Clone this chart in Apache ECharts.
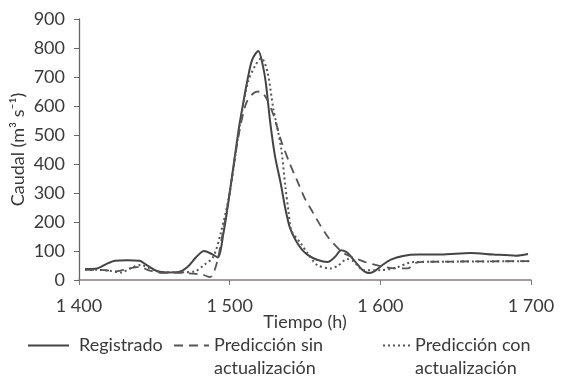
<!DOCTYPE html>
<html>
<head>
<meta charset="utf-8">
<script src="https://cdn.jsdelivr.net/npm/echarts@6/dist/echarts.min.js"></script>
<style>
  html, body { margin: 0; padding: 0; background: #fff; }
  #chart { width: 564px; height: 376px; }
</style>
</head>
<body>
<div id="chart"></div>
<script>
// tiempo (h) y caudal (m3/s)
const registradoT = [1404, 1412, 1418, 1424, 1432, 1440, 1446, 1452, 1458, 1466, 1472, 1478, 1483, 1488, 1492, 1496, 1500, 1506, 1509, 1512, 1515, 1519, 1522, 1524, 1527, 1530, 1534, 1537, 1540, 1544, 1548, 1552, 1558, 1565, 1570, 1574, 1578, 1583, 1588, 1592, 1596, 1601, 1607, 1615, 1625, 1640, 1660, 1675, 1690, 1698]
const registradoQ = [38, 40, 55, 66, 68, 66, 48, 30, 26, 28, 45, 80, 100, 90, 78, 165, 300, 520, 610, 695, 760, 790, 740, 680, 540, 430, 330, 245, 180, 135, 105, 86, 70, 62, 80, 103, 95, 65, 35, 24, 30, 50, 70, 83, 88, 88, 93, 88, 84, 90]

const sinActT = [1404, 1415, 1425, 1432, 1440, 1447, 1455, 1465, 1475, 1482, 1487, 1491, 1495, 1500, 1506, 1511, 1516, 1520, 1524, 1529, 1534, 1540, 1545, 1550, 1555, 1560, 1565, 1570, 1575, 1580, 1590, 1600, 1610, 1618, 1624, 1635, 1700]
const sinActQ = [35, 35, 30, 38, 45, 32, 25, 25, 22, 18, 10, 50, 150, 300, 500, 610, 645, 650, 630, 570, 483, 400, 340, 280, 235, 190, 150, 120, 95, 82, 62, 48, 40, 40, 60, 63, 65]

const conActT = [1404, 1412, 1420, 1428, 1434, 1441, 1447, 1454, 1462, 1470, 1477, 1483, 1489, 1494, 1500, 1506, 1512, 1517, 1521, 1525, 1529, 1534, 1537, 1539, 1541, 1547, 1552, 1558, 1567, 1572, 1578, 1582, 1589, 1600, 1610, 1622, 1640, 1700]
const conActQ = [35, 35, 32, 26, 40, 52, 40, 28, 27, 27, 30, 52, 79, 160, 300, 510, 680, 740, 765, 720, 590, 460, 320, 240, 170, 128, 90, 52, 40, 50, 72, 65, 34, 34, 42, 62, 63, 65]

const xTicks = [1400, 1500, 1600, 1700]
const seriesNames = ['Registrado', 'Predicción sin actualización', 'Predicción con actualización']

const zip = (t, q) => t.map((v, i) => [v, q[i]])
// blank first line keeps the icon level with the first text line
const legendLabels = {
  'Registrado': ' \nRegistrado\n ',
  'Predicción sin actualización': ' \nPredicción sin\nactualización',
  'Predicción con actualización': ' \nPredicción con\nactualización'
}

const chart = echarts.init(document.getElementById('chart'))
const font = 'Lato'
const ink = '#3a3a3a'

// one legend per entry so each can sit where it does in the figure
function legendFor(name, left, iconWidth, textGap) {
  return {
    data: [name],
    left: left,
    top: 306,
    itemWidth: iconWidth,
    itemHeight: 10,
    itemStyle: { opacity: 0 },
    formatter: n => legendLabels[n],
    textStyle: {
      fontFamily: font,
      fontSize: 18,
      color: ink,
      lineHeight: 23,
      padding: [0, 0, 0, textGap]
    }
  }
}

chart.setOption({
  animation: false,
  textStyle: { fontFamily: font },
  grid: { left: 79, right: 33, top: 19, bottom: 96 },
  legend: [
    legendFor(seriesNames[0], 22, 41, 5),
    legendFor(seriesNames[1], 168, 35, 0),
    legendFor(seriesNames[2], 377, 27, 0)
  ],
  xAxis: {
    type: 'value',
    min: 1400,
    max: 1700,
    interval: 100,
    name: 'Tiempo (h)',
    nameLocation: 'middle',
    nameGap: 33,
    nameMoveOverlap: false,
    nameTextStyle: { fontSize: 18, color: ink },
    axisLine: { lineStyle: { color: '#8a7c7c', width: 1.5 } },
    axisTick: { show: true, length: 5, lineStyle: { color: '#777' } },
    splitLine: { show: false },
    axisLabel: {
      fontSize: 18,
      color: ink,
      margin: 17,
      formatter: v => xTicks.includes(v) ? String(v).replace(/(\d)(\d{3})$/, '$1 $2') : ''
    }
  },
  yAxis: {
    type: 'value',
    min: 0,
    max: 900,
    interval: 100,
    name: 'Caudal (m³ s⁻¹)',
    nameLocation: 'middle',
    nameGap: 52,
    nameMoveOverlap: false,
    nameTextStyle: { fontSize: 18, color: ink },
    axisLine: { show: true, lineStyle: { color: '#666', width: 1.3 } },
    axisTick: { show: true, length: 5, lineStyle: { color: '#666' } },
    splitLine: { show: false },
    axisLabel: { fontSize: 18, color: ink, margin: 14 }
  },
  series: [
    {
      name: seriesNames[0],
      type: 'line',
      data: zip(registradoT, registradoQ),
      smooth: 0.3,
      symbol: 'none',
      lineStyle: { color: '#444', width: 2, type: 'solid' },
      itemStyle: { color: '#444' }
    },
    {
      name: seriesNames[1],
      type: 'line',
      data: zip(sinActT, sinActQ),
      smooth: 0.3,
      symbol: 'none',
      lineStyle: { color: '#555', width: 1.8, type: [9, 6] },
      itemStyle: { color: '#555' }
    },
    {
      name: seriesNames[2],
      type: 'line',
      data: zip(conActT, conActQ),
      smooth: 0.3,
      symbol: 'none',
      lineStyle: { color: '#555', width: 2, type: [2, 3] },
      itemStyle: { color: '#555' }
    }
  ]
})
</script>
</body>
</html>
